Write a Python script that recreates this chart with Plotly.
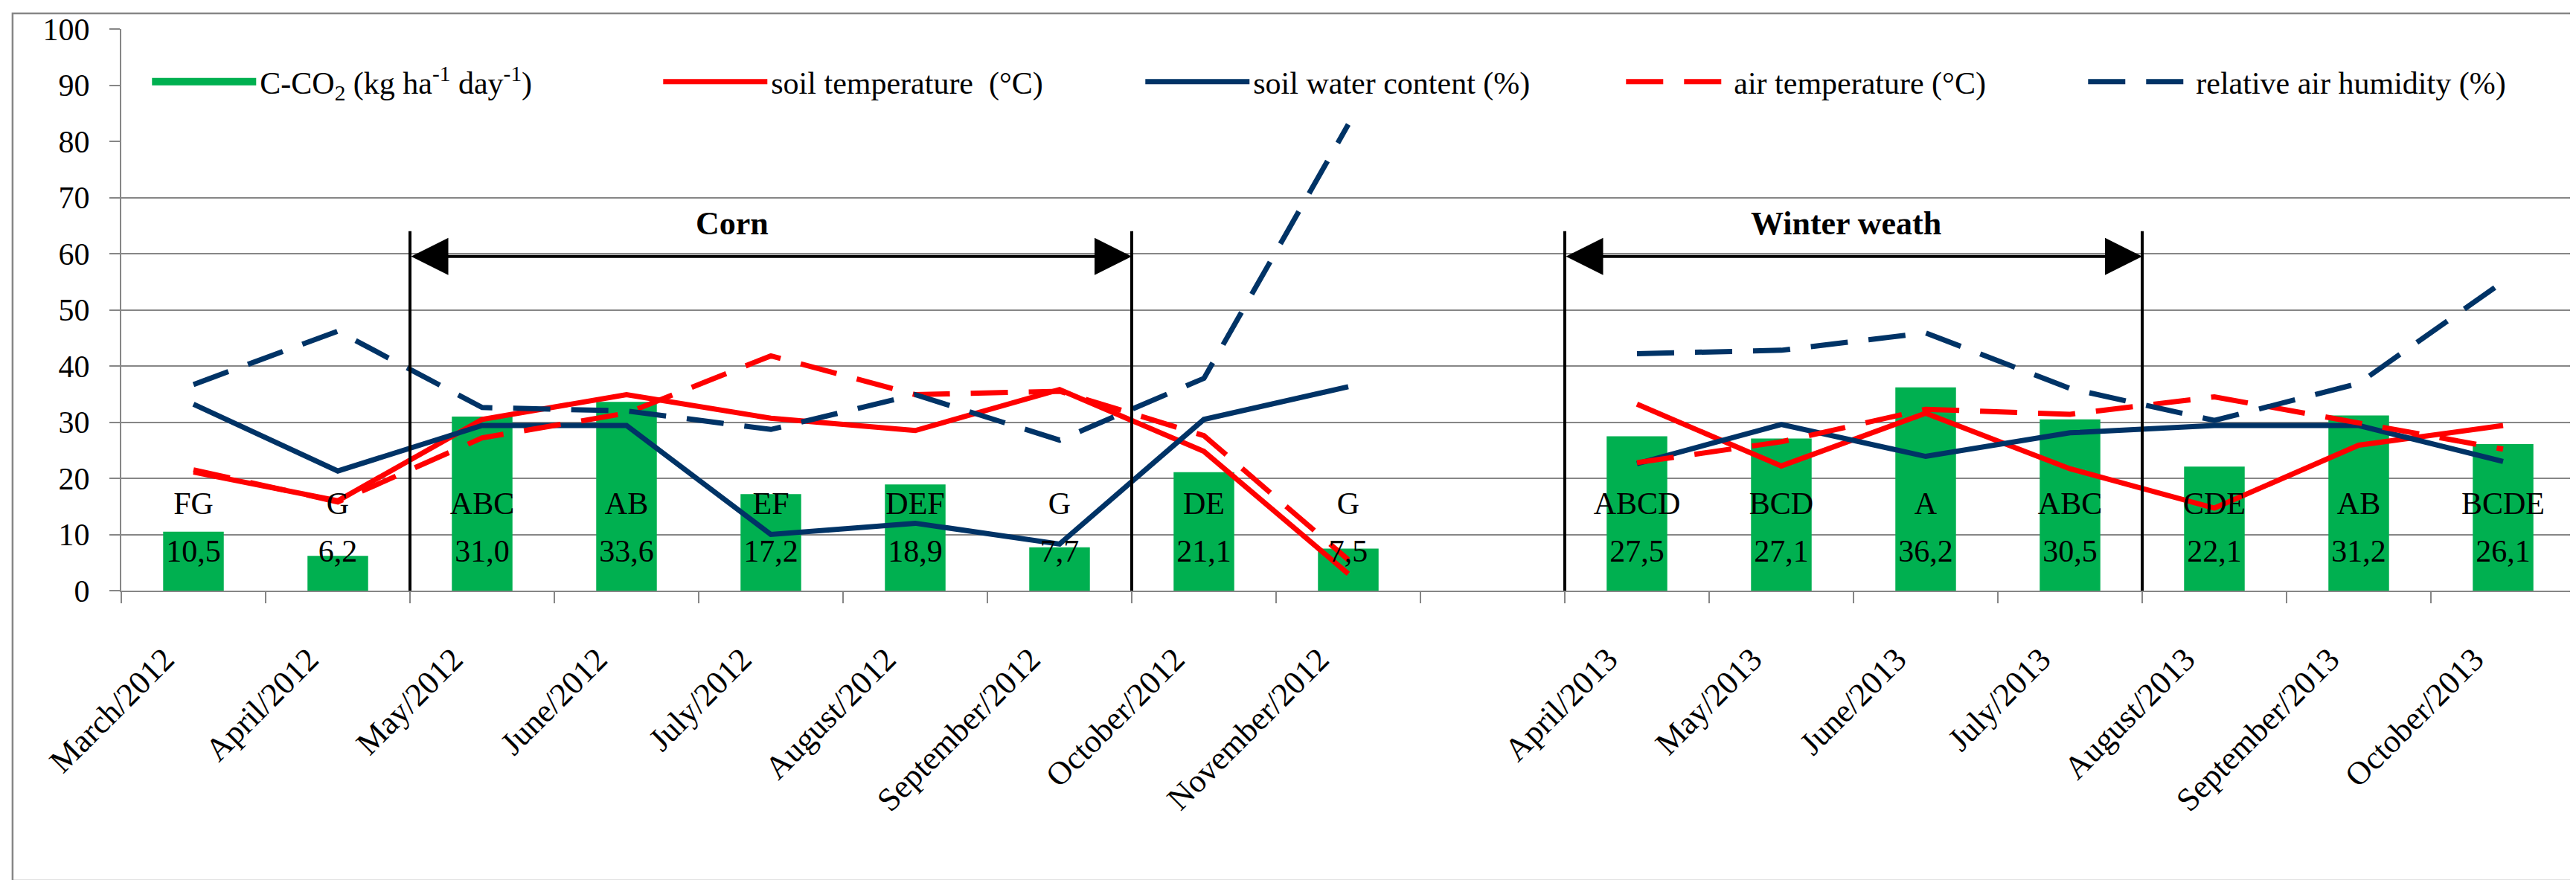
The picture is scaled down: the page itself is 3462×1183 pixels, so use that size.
import plotly.graph_objects as go

# monthly data, one empty category separates the two seasons
months = ["March/2012", "April/2012", "May/2012", "June/2012", "July/2012",
          "August/2012", "September/2012", "October/2012", "November/2012", " ",
          "April/2013", "May/2013", "June/2013", "July/2013", "August/2013",
          "September/2013", "October/2013"]
c_co2 = [10.5, 6.2, 31.0, 33.6, 17.2, 18.9, 7.7, 21.1, 7.5, None,
         27.5, 27.1, 36.2, 30.5, 22.1, 31.2, 26.1]
letters = ["FG", "G", "ABC", "AB", "EF", "DEF", "G", "DE", "G", "",
           "ABCD", "BCD", "A", "ABC", "CDE", "AB", "BCDE"]
soil_temp = [21.1, 16.0, 30.5, 34.9, 30.7, 28.5, 35.8, 24.8, 3.0, None,
             33.2, 22.2, 31.6, 21.7, 14.7, 25.9, 29.4]
soil_water = [33.2, 21.3, 29.4, 29.4, 10.0, 12.0, 8.3, 30.5, 36.3, None,
              22.6, 29.6, 23.9, 28.1, 29.4, 29.4, 23.0]
air_temp = [21.5, 15.8, 27.2, 31.6, 41.8, 34.9, 35.5, 27.6, 5.5, None,
            22.8, 26.5, 32.3, 31.4, 34.5, 29.9, 25.2]
humidity = [36.7, 46.2, 32.6, 32.0, 28.7, 34.9, 26.8, 37.8, 83.0, None,
            42.2, 42.8, 45.9, 36.0, 30.3, 36.9, 55.0]

# crop periods (category boundaries) and their names
periods = [(1.5, 6.5, "Corn", 3.73), (9.5, 13.5, "Winter weath", 11.45)]

FONT = "Palatino Linotype, Book Antiqua, Liberation Serif, serif"
GREY = "#868686"
GREEN = "#00B050"
RED = "#FF0000"
NAVY = "#003366"
FS = 42
CO2_NAME = "C-CO<sub>2</sub> (kg ha<sup>-1</sup> day<sup>-1</sup>)"

value_text = ["" if v is None else f"{v:.1f}".replace(".", ",") for v in c_co2]
# trailing nbsp pushes the slanted labels down-left like the original
tick_text = [m + "\u00a0" * 5 for m in months]

fig = go.Figure()
fig.add_bar(x=months, y=c_co2, name=CO2_NAME, showlegend=False,
            marker=dict(color=GREEN, line=dict(width=0)))
# wide green key for the bars, as in the original legend
fig.add_scatter(x=[months[0]], y=[None], mode="lines", name=CO2_NAME,
                line=dict(color=GREEN, width=25), legendwidth=532)
fig.add_scatter(x=months, y=soil_temp, mode="lines", name="soil temperature  (°C)",
                line=dict(color=RED, width=7), yaxis="y2", legendwidth=493)
fig.add_scatter(x=months, y=soil_water, mode="lines", name="soil water content (%)",
                line=dict(color=NAVY, width=7), yaxis="y2", legendwidth=491)
fig.add_scatter(x=months, y=air_temp, mode="lines", name="air temperature (°C)",
                line=dict(color=RED, width=7, dash="50px,28px"), yaxis="y2", legendwidth=466)
fig.add_scatter(x=months, y=humidity, mode="lines", name="relative air humidity (%)",
                line=dict(color=NAVY, width=7, dash="50px,28px"), yaxis="y2")

# significance letters and values
fig.add_scatter(x=months, y=[15] * len(months), mode="text", text=letters,
                textfont=dict(size=FS, color="black", family=FONT),
                showlegend=False, yaxis="y2")
fig.add_scatter(x=months, y=[6.5] * len(months), mode="text", text=value_text,
                textfont=dict(size=FS, color="black", family=FONT),
                showlegend=False, yaxis="y2")

for x0, x1, label, xc in periods:
    for xv in (x0, x1):
        fig.add_shape(type="line", xref="x", yref="y", x0=xv, x1=xv, y0=0, y1=64,
                      line=dict(color="black", width=4))
    fig.add_annotation(x=x1, y=59.5, ax=x0, ay=59.5, xref="x", yref="y",
                       axref="x", ayref="y", text="", showarrow=True,
                       arrowhead=2, startarrowhead=2, arrowside="end+start",
                       arrowwidth=4, arrowsize=2.5, startarrowsize=2.5,
                       arrowcolor="black", standoff=0, startstandoff=0)
    fig.add_annotation(x=xc, y=65.4, xref="x", yref="y", text=f"<b>{label}</b>",
                       showarrow=False, yanchor="middle",
                       font=dict(size=44, color="black", family=FONT))

# outer chart frame
fig.add_shape(type="rect", xref="paper", yref="paper", x0=-0.0443, x1=1.0,
              y0=-0.5165, y1=1.0277, line=dict(color=GREY, width=2.5), layer="below")

fig.update_layout(
    width=3462, height=1183, autosize=False,
    margin=dict(l=155, r=9, t=29, b=397),
    paper_bgcolor="white", plot_bgcolor="white",
    font=dict(family=FONT, size=FS, color="black"),
    bargap=0.58,
    showlegend=True,
    legend=dict(orientation="h", x=0.011, xanchor="left", y=0.906, yanchor="middle",
                font=dict(size=FS, family=FONT, color="black"), itemwidth=140,
                bgcolor="rgba(0,0,0,0)", traceorder="normal"),
    xaxis=dict(type="category", categoryorder="array", categoryarray=months,
               tickmode="array", tickvals=months, ticktext=tick_text,
               showline=True, linecolor=GREY, linewidth=2, showgrid=False,
               ticks="outside", tickson="boundaries", ticklen=15, tickcolor=GREY,
               tickwidth=2, tickangle=-45, ticklabelstandoff=8,
               tickfont=dict(size=44, family=FONT, color="black"),
               range=[-0.5, 16.5]),
    yaxis=dict(range=[0, 100], tickvals=list(range(0, 101, 10)), showgrid=False,
               zeroline=False, showline=True, linecolor=GREY, linewidth=2,
               ticks="outside", ticklen=14, tickcolor=GREY, tickwidth=2,
               ticklabelstandoff=18, tickfont=dict(size=FS, family=FONT, color="black")),
    yaxis2=dict(range=[0, 100], overlaying="y", tickvals=list(range(0, 71, 10)),
                showgrid=True, gridcolor=GREY, gridwidth=2, zeroline=False,
                showticklabels=False, ticks="", showline=False),
)

fig.write_html("out.html")
